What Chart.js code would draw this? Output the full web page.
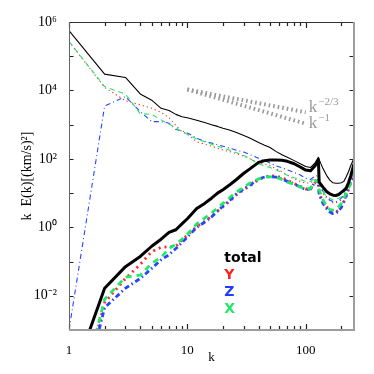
<!DOCTYPE html>
<html>
<head>
<meta charset="utf-8">
<script src="https://cdn.jsdelivr.net/npm/chart.js@4.4.1/dist/chart.umd.min.js"></script>
<style>
html,body{margin:0;padding:0;background:#fff;}
#c{display:block;}
</style>
</head>
<body>
<canvas id="c" width="374" height="374"></canvas>
<script>
// ---- data ----
const kValues = [1,2,3,4,5,6,7,8,9,10,12,14,16,18,20,23,26,30,34,40,45,50,56,63,70,80,90,100,110,120,128,130,140,150,160,170,180,190,200,210,220,230,240,256];

// upper (thin) set
const totalThin = [5.6e5,3.0e4,2.4e4,7.9e3,5.2e3,3.0e3,2.6e3,2.0e3,1.7e3,1.6e3,1.35e3,1.15e3,1.0e3,890,790,690,590,480,400,300,250,215,166,132,112,89,72,60,56,76,112,95,52,33,24,20,19.5,19.5,20,22,30,42,63,105];
const yThin     = [2.7e5,1.23e4,5.0e3,3.8e3,3.0e3,2.3e3,1.6e3,950,630,525,316,270,234,204,182,162,141,120,100,76,71,63,52,42,33,26,22,19.5,20,25,28,20,10,7.1,6.0,5.2,5.2,5.6,6.3,7.9,11.2,15.8,22,35];
const zThin     = [1.0e-3,3.5e3,6.6e3,2.4e3,1.23e3,1.23e3,1.1e3,720,660,575,400,330,290,257,234,204,178,158,132,105,89,76,63,55,48,40,34,27,25,32,32,22,11.2,7.9,6.3,5.6,5.6,6.0,7.1,8.9,12.6,17.8,25,40];
const xThin     = [2.7e5,1.3e4,7.8e3,2.1e3,2.0e3,1.38e3,1.05e3,810,620,525,380,316,270,234,209,178,151,126,100,71,63,56,48,40,33,28,25,22,22,28,32,22,11.2,7.9,7.1,6.3,6.6,7.1,7.9,10,14,20,28,45];

// lower (thick) set
const totalThick = [2e-5,0.0166,0.071,0.141,0.28,0.45,0.71,0.85,1.26,1.78,3.55,5.0,7.1,10,12.6,17.8,25,38,52,79,89,93,93,91,85,72,58,47,45,63,95,21,15,11.2,9.5,8.7,8.5,9.1,10.5,12,14,20,32,71];
const yThick     = [5e-7,0.0063,0.032,0.083,0.195,0.26,0.27,0.28,0.42,0.6,1.05,1.5,2.1,3.0,4.0,6.0,8.9,12.6,16.6,25,29.5,31.6,31.6,28,24,19,15.8,13.2,13.2,20,20,10,5.6,4.0,3.2,2.8,2.8,3.2,4.0,5.6,7.9,12.6,20,28];
const zThick     = [3e-7,0.0045,0.0166,0.032,0.063,0.112,0.158,0.24,0.355,0.52,1.0,1.41,2.0,2.95,4.2,6.3,9.5,13.2,17.4,26,29.5,30,29.5,26,22,18.6,15.1,12.6,13.2,21,24,8.9,5.0,3.55,2.8,2.5,2.6,3.0,3.8,5.6,8.9,14,22,32];
const xThick     = [6e-7,0.0079,0.035,0.04,0.089,0.132,0.24,0.32,0.45,0.63,1.26,1.86,2.6,3.7,5.0,7.6,10.7,14.8,20,26,29.5,30,29,25,21,17.8,15.1,12.6,14,22,22,12.6,6.3,4.2,3.3,3.2,3.3,4.0,5.0,7.1,10,14,20,28];

// reference power-law guide lines (end points)
const refK = [10, 100];
const refMinus23 = [1.07e4, 2.3e3];
const refMinus1  = [1.07e4, 1.07e3];
const refLabelK = [106, 106];
const refLabelV = [2.4e3, 7.9e2];
const refLabelSup = ['\u22122/3', '\u22121'];

// axis ticks
const xTickValues = [1,2,3,4,5,6,7,8,9,10,20,30,40,50,60,70,80,90,100,200];
const xTickLabels = [1,10,100];
const yTickValues = [1e-3,1e-2,1e-1,1,1e1,1e2,1e3,1e4,1e5,1e6];
const yLabelExps  = [6,4,2,0,-2];
const yLabelTexts = ['10\u2076','10\u2074','10\u00B2','10\u2070','10\u207B\u00B2'];

const legendTexts = ['total','Y','Z','X'];
const legendColors = ['#000000','#ff2020','#1f3cff','#1ee866'];

// ---- build ----
const RED='#ff2a2a', BLUE='#2645ff', GREEN='#22e866', GREY='#9a9a9a';
function pts(arr){ return kValues.map((k,i)=>({x:k,y:arr[i]})); }
function ds(arr,color,width,dash){
  return {data:pts(arr),borderColor:color,borderWidth:width,borderDash:dash,pointRadius:0,tension:0,fill:false,clip:0,borderCapStyle:'butt',borderJoinStyle:'round'};
}
const datasets = [
  ds(totalThick,'#000',3,[]),
  ds(totalThin,'#000',1.1,[]),
  ds(xThick,GREEN,2.8,[6,5]),
  ds(zThick,BLUE,2.8,[5,3,1.5,3]),
  ds(yThick,RED,2.8,[2,4]),
  ds(xThin,GREEN,1.1,[5,4]),
  ds(zThin,BLUE,1.1,[5,3,1,3]),
  ds(yThin,RED,1.1,[1.2,3]),
  {data:refK.map((k,i)=>({x:k,y:refMinus23[i]})),borderColor:GREY,borderWidth:4,borderDash:[1.6,3],pointRadius:0,clip:0,borderCapStyle:'butt'},
  {data:refK.map((k,i)=>({x:k,y:refMinus1[i]})),borderColor:GREY,borderWidth:4,borderDash:[1.6,3],pointRadius:0,clip:0,borderCapStyle:'butt'}
];

const decor = {
  id:'decor',
  afterDraw(chart){
    const {ctx, chartArea:a, scales:{x,y}} = chart;
    ctx.save();
    ctx.setLineDash([]);
    // ticks
    ctx.strokeStyle='#222'; ctx.lineWidth=1.2;
    xTickValues.forEach(v=>{
      const px=Math.round(x.getPixelForValue(v))+0.5;
      const L = xTickLabels.includes(v)?6:4;
      ctx.beginPath();
      ctx.moveTo(px,a.bottom); ctx.lineTo(px,a.bottom-L);
      ctx.moveTo(px,a.top); ctx.lineTo(px,a.top+L);
      ctx.stroke();
    });
    yTickValues.forEach(v=>{
      const py=Math.round(y.getPixelForValue(v))+0.5;
      ctx.beginPath();
      ctx.moveTo(a.left,py); ctx.lineTo(a.left+4.5,py);
      ctx.moveTo(a.right,py); ctx.lineTo(a.right-4.5,py);
      ctx.stroke();
    });
    // box
    ctx.lineWidth=1; ctx.strokeStyle='#333';
    ctx.beginPath(); ctx.moveTo(a.left,a.top+0.5); ctx.lineTo(a.right,a.top+0.5); ctx.stroke();
    ctx.strokeStyle='#666';
    ctx.beginPath(); ctx.moveTo(a.left+0.5,a.top); ctx.lineTo(a.left+0.5,a.bottom); ctx.stroke();
    ctx.lineWidth=2; ctx.strokeStyle='#9d9d9d';
    ctx.beginPath(); ctx.moveTo(a.left,a.bottom); ctx.lineTo(a.right+1,a.bottom); ctx.stroke();
    ctx.beginPath(); ctx.moveTo(a.right,a.top); ctx.lineTo(a.right,a.bottom+1); ctx.stroke();
    // guide labels
    ctx.fillStyle=GREY; ctx.textBaseline='alphabetic'; ctx.textAlign='left';
    refLabelK.forEach((k,i)=>{
      const px=x.getPixelForValue(k), py=y.getPixelForValue(refLabelV[i]);
      ctx.font='17px "Liberation Serif", serif';
      ctx.fillText('k',px,py);
      const w=ctx.measureText('k').width;
      ctx.font='11px "Liberation Serif", serif';
      ctx.fillText(refLabelSup[i],px+w+1,py-7);
    });
    // legend
    const lx = a.left + 0.545*(a.right-a.left);
    const ly0 = 262;
    ctx.font='bold 14px "DejaVu Sans", sans-serif';
    legendTexts.forEach((t,i)=>{
      ctx.fillStyle=legendColors[i];
      ctx.fillText(t,lx,ly0+i*16.9);
    });
    ctx.restore();
  }
};

new Chart(document.getElementById('c'),{
  type:'line',
  data:{datasets},
  options:{
    responsive:false, animation:false, devicePixelRatio:1,
    layout:{padding:{top:22,right:20,left:0,bottom:0}},
    plugins:{legend:{display:false},tooltip:{enabled:false}},
    scales:{
      x:{type:'logarithmic',min:1,max:256,
        afterBuildTicks:s=>{s.ticks=xTickValues.map(v=>({value:v}));},
        afterFit:s=>{s.height=44;},
        grid:{display:false},border:{display:false},
        ticks:{autoSkip:false,maxRotation:0,minRotation:0,padding:5,color:'#000',
          font:{family:'"Liberation Serif", serif',size:13},
          callback:v=>xTickLabels.includes(v)?String(v):''},
        title:{display:true,text:'k',color:'#000',font:{family:'"Liberation Serif", serif',size:13},padding:{top:0,bottom:9}}
      },
      y:{type:'logarithmic',min:1e-3,max:1e6,
        afterBuildTicks:s=>{s.ticks=yTickValues.map(v=>({value:v}));},
        afterFit:s=>{s.width=69;},
        grid:{display:false},border:{display:false},
        ticks:{autoSkip:false,padding:4,color:'#000',
          font:{family:'"Liberation Serif", serif',size:14},
          callback:v=>{const i=yLabelExps.indexOf(Math.round(Math.log10(v))); return i>=0?yLabelTexts[i]:'';}},
        title:{display:true,text:'k  E(k)[(km/s)\u00B2]',color:'#000',font:{family:'"Liberation Serif", serif',size:14},padding:{top:19,bottom:0}}
      }
    }
  },
  plugins:[decor]
});
</script>
</body>
</html>
